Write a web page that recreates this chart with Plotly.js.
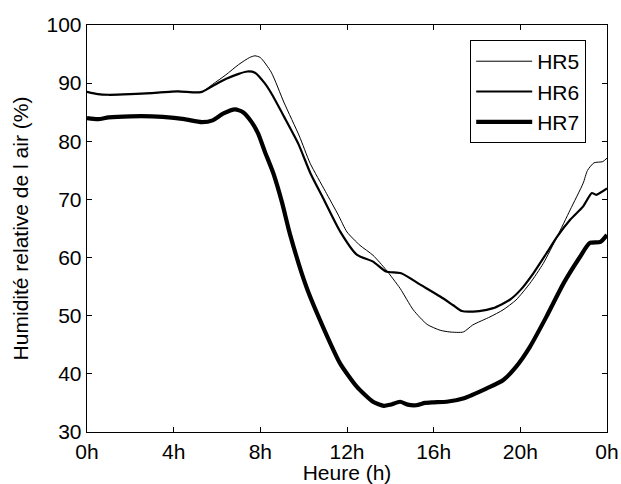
<!DOCTYPE html>
<html>
<head>
<meta charset="utf-8">
<script src="https://cdn.plot.ly/plotly-3.0.1.min.js"></script>
<style>html,body{margin:0;padding:0;background:#fff;}#chart{width:621px;height:484px;}</style>
</head>
<body>
<div id="chart"></div>
<script>
// Hours (h) and relative humidity (%)
const hr5Hours = [0, 0.5, 1, 2, 3, 3.8, 4.2, 5, 5.3, 5.8, 6.4, 7.0, 7.5, 7.75, 8.0, 8.5, 9.1, 9.8, 10.3, 11.0, 11.6, 12.0, 12.6, 13.2, 13.8, 14.45, 15.06, 15.7, 16.3, 16.75, 17.37, 17.8, 18.6, 19.2, 19.8, 20.45, 21.06, 21.7, 22.3, 22.9, 23.1, 23.4, 23.8, 24];
const hr5Values = [88.5, 88.1, 88.0, 88.1, 88.3, 88.5, 88.6, 88.4, 88.5, 89.8, 91.4, 93.2, 94.4, 94.7, 94.4, 91.9, 86.6, 80.9, 76.2, 71.4, 67.3, 64.4, 62.1, 60.4, 57.9, 54.7, 51.0, 48.5, 47.5, 47.2, 47.2, 48.4, 49.8, 51.0, 52.7, 55.6, 59.0, 63.6, 68.2, 72.8, 75.0, 76.3, 76.5, 77.1];

const hr6Hours = [0, 0.5, 1, 2, 3, 3.8, 4.2, 5, 5.3, 5.8, 6.4, 7.0, 7.4, 7.75, 8.2, 8.5, 9.1, 9.75, 10.3, 10.9, 11.68, 12.45, 13.2, 13.8, 14.5, 15.4, 16.3, 16.9, 17.3, 18.1, 18.75, 19.5, 20.0, 20.6, 21.2, 21.7, 22.3, 22.9, 23.3, 23.5, 24];
const hr6Values = [88.5, 88.1, 88.0, 88.1, 88.3, 88.5, 88.6, 88.4, 88.5, 89.5, 90.7, 91.6, 92.0, 91.8, 90.0, 88.3, 84.2, 79.6, 74.6, 70.2, 64.5, 60.5, 59.3, 57.6, 57.3, 55.3, 53.3, 51.8, 50.8, 50.8, 51.3, 52.7, 54.4, 57.3, 60.7, 63.6, 66.5, 68.8, 71.1, 70.8, 71.9];

const hr7Hours = [0, 0.5, 1, 2, 3, 3.5, 4.5, 5.3, 5.8, 6.3, 6.83, 7.2, 7.6, 7.9, 8.2, 8.6, 9.0, 9.37, 10.14, 10.9, 11.68, 12.45, 13.2, 13.7, 14.0, 14.45, 14.8, 15.2, 15.6, 16.0, 16.6, 17.4, 18.45, 19.2, 19.8, 20.45, 21.2, 22.0, 22.75, 23.2, 23.7, 24];
const hr7Values = [84.0, 83.8, 84.1, 84.3, 84.3, 84.2, 83.8, 83.3, 83.6, 84.8, 85.5, 85.0, 83.3, 81.3, 78.3, 74.5, 69.5, 64.0, 54.8, 48.0, 41.8, 37.8, 35.2, 34.5, 34.7, 35.2, 34.7, 34.6, 35.0, 35.1, 35.2, 35.8, 37.5, 38.9, 41.2, 44.7, 49.8, 55.6, 60.1, 62.5, 62.7, 63.9];

const xTickVals = [0, 4, 8, 12, 16, 20, 24];
const xTickText = ['0h', '4h', '8h', '12h', '16h', '20h', '0h'];
const yTickVals = [30, 40, 50, 60, 70, 80, 90, 100];

const FONT = 'Liberation Sans, Arial, sans-serif';

const traces = [
  {x: hr5Hours, y: hr5Values, name: 'HR5', mode: 'lines',
   line: {color: '#000', width: 1, shape: 'spline', smoothing: 0.6}},
  {x: hr6Hours, y: hr6Values, name: 'HR6', mode: 'lines',
   line: {color: '#000', width: 2.2, shape: 'spline', smoothing: 0.6}},
  {x: hr7Hours, y: hr7Values, name: 'HR7', mode: 'lines',
   line: {color: '#000', width: 4.2, shape: 'spline', smoothing: 0.6}}
];

const axisCommon = {
  showline: true, linecolor: '#000', linewidth: 1.3, mirror: 'ticks',
  ticks: 'inside', ticklen: 5, tickcolor: '#000', tickwidth: 1,
  showgrid: false, zeroline: false,
  tickfont: {family: FONT, size: 21, color: '#000'}
};

const layout = {
  width: 621, height: 484,
  margin: {l: 87, r: 14, t: 25, b: 52},
  paper_bgcolor: '#fff', plot_bgcolor: '#fff',
  font: {family: FONT, size: 21, color: '#000'},
  showlegend: true,
  legend: {
    x: 0.96, xanchor: 'right', y: 0.963, yanchor: 'top',
    bgcolor: '#fff', bordercolor: '#000', borderwidth: 1,
    font: {family: FONT, size: 21, color: '#000'},
    itemwidth: 56,
    tracegroupgap: 0
  },
  xaxis: Object.assign({}, axisCommon, {
    range: [0, 24], tickvals: xTickVals, ticktext: xTickText,
    title: {text: 'Heure (h)', font: {family: FONT, size: 21, color: '#000'}, standoff: 0}
  }),
  yaxis: Object.assign({}, axisCommon, {
    range: [30, 100], tickvals: yTickVals,
    title: {text: 'Humidité relative de l air (%)', font: {family: FONT, size: 21, color: '#000'}, standoff: 12}
  })
};

Plotly.newPlot('chart', traces, layout, {staticPlot: true, displayModeBar: false});
</script>
</body>
</html>
